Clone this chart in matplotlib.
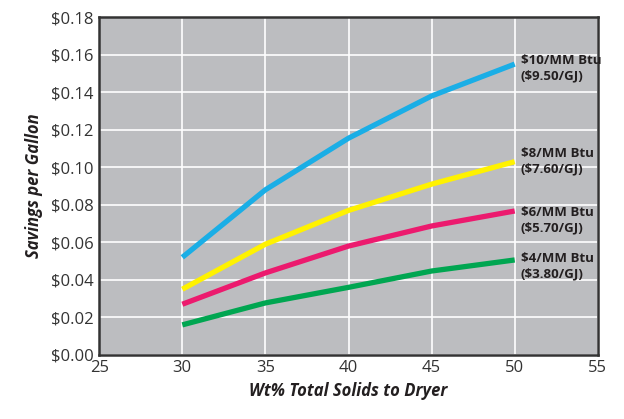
import matplotlib
matplotlib.use('Agg')
import matplotlib.pyplot as plt
from matplotlib.ticker import FuncFormatter

solids = [30, 35, 40, 45, 50]
price_10 = [0.052, 0.088, 0.1155, 0.138, 0.155]
price_8 = [0.035, 0.059, 0.077, 0.091, 0.103]
price_6 = [0.027, 0.0437, 0.058, 0.0687, 0.0767]
price_4 = [0.016, 0.0277, 0.036, 0.0447, 0.0506]
labels = ['$10/MM Btu\n($9.50/GJ)', '$8/MM Btu\n($7.60/GJ)',
          '$6/MM Btu\n($5.70/GJ)', '$4/MM Btu\n($3.80/GJ)']
colors = ['#1aaee6', '#fff200', '#ec1a6e', '#00a651']
label_shift = [-0.002, 0.0, -0.005, -0.0035]

plt.rcParams['font.family'] = ['Open Sans', 'DejaVu Sans']

fig = plt.figure(figsize=(6.24, 4.19), dpi=100)
ax = fig.add_axes([0.159, 0.153, 0.799, 0.806])
ax.set_facecolor('#bcbdc0')

for ys, c, lab, dy in zip([price_10, price_8, price_6, price_4], colors, labels, label_shift):
    ax.plot(solids, ys, color=c, lw=3.8, solid_capstyle='butt', zorder=3)
    ax.text(solids[-1] + 0.35, ys[-1] + dy, lab.replace('$', r'\$'), fontsize=9.5,
            fontweight='bold', color='#231f20', va='center', ha='left',
            fontstretch='condensed', linespacing=1.25)

ax.set_xlim(25, 55)
ax.set_ylim(0, 0.18)
ax.set_xticks(range(25, 56, 5))
ax.set_yticks([i * 0.02 for i in range(10)])
ax.yaxis.set_major_formatter(FuncFormatter(lambda v, p: r'\$%.2f' % v))
ax.grid(True, color='white', lw=1.2)
ax.set_axisbelow(True)
ax.tick_params(length=0, labelsize=12, colors='#333333', pad=4)
for s in ax.spines.values():
    s.set_color('#333333')
    s.set_linewidth(1.8)

ax.set_xlabel('Wt% Total Solids to Dryer', fontsize=12, fontweight='bold',
              fontstyle='italic', color='#231f20', labelpad=4)
ax.set_ylabel('Savings per Gallon', fontsize=12, fontweight='bold',
              fontstyle='italic', color='#231f20', labelpad=6)

fig.savefig('out.png', dpi=100)
